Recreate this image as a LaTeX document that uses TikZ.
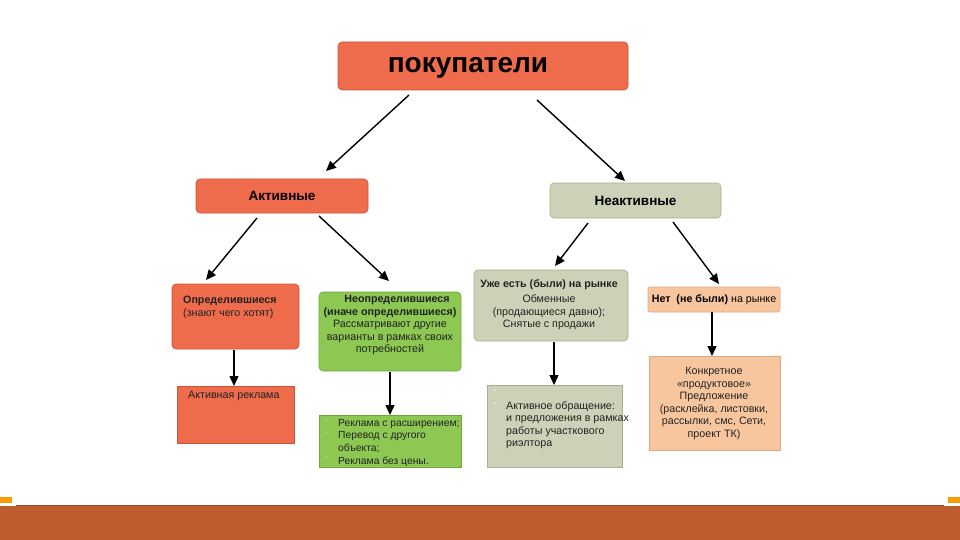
\documentclass[tikz,border=0pt]{standalone}
\usepackage{fontspec}
\setmainfont{Liberation Sans}
\usetikzlibrary{arrows.meta}
\definecolor{cRed}{HTML}{EE6B4C}
\definecolor{cRedD}{HTML}{C9553A}
\definecolor{cGrey}{HTML}{CBD2B7}
\definecolor{cGreyD}{HTML}{A8AE96}
\definecolor{cGreen}{HTML}{8DC853}
\definecolor{cGreenD}{HTML}{6FA63E}
\definecolor{cPeach}{HTML}{F8C69E}
\definecolor{cPeachD}{HTML}{E2A77C}
\definecolor{cBand}{HTML}{BF5B2D}
\definecolor{cTxt}{HTML}{222222}
\tikzset{
  box/.style={draw=#1D, line width=0.6pt, fill=#1, rounded corners=4pt, inner sep=0pt},
  flat/.style={draw=#1D, line width=0.4pt, fill=#1, inner sep=0pt},
  txt/.style={font=\fontsize{10.7}{12.6}\selectfont, text=cTxt, inner sep=0pt},
  conn/.style={line width=1.4pt, -{Triangle[length=10pt,width=9pt]}}
}
\begin{document}
\begin{tikzpicture}[x=1pt,y=-1pt]
\useasboundingbox (0,0) rectangle (960,540);
\fill[white] (0,0) rectangle (960,540);
% bottom band
\fill[cBand] (0,506) rectangle (960,540);
\draw[cBand!80!black, line width=0.8pt] (16,505.5) -- (944,505.5);
\fill[orange!80!yellow] (0,497) rectangle (12,503);
\fill[orange!80!yellow] (948,497) rectangle (960,503);

% boxes
\node[box=cRed, minimum width=290, minimum height=48] (top) at (483,66) {};
\node[font=\fontsize{28}{32}\selectfont\bfseries, inner sep=0pt] (toptxt) at (468,68) {покупатели};

\node[box=cRed, minimum width=172, minimum height=34] (act) at (282,196)
  {\fontsize{13.5}{15}\selectfont\bfseries Активные};
\node[box=cGrey, minimum width=171, minimum height=35] (inact) at (635.5,200.5)
  {\fontsize{13.5}{15}\selectfont\bfseries Неактивные};

\node[box=cRed, minimum width=127, minimum height=65] (def) at (235.5,316.5) {};
\node[txt, align=left, anchor=north west] (deftxt) at (183,296)
  {\textbf{Определившиеся}\\(знают чего хотят)};

\node[box=cGreen, minimum width=142, minimum height=79] (undef) at (390,331.5) {};
\node[txt, align=center, anchor=north] (undeftxt) at (390,295)
  {\hspace*{14pt}\textbf{Неопределившиеся}\\\textbf{(иначе определившиеся)}\\Рассматривают другие\\варианты в рамках своих\\потребностей};

\node[box=cGrey, minimum width=154, minimum height=71] (was) at (551,305.5) {};
\node[txt, align=center, anchor=north] (wastxt) at (549,279)
  {\textbf{Уже есть (были) на рынке}\\[3pt]Обменные\\(продающиеся давно);\\Снятые с продажи};

\node[box=cPeach, minimum width=132, minimum height=25, rounded corners=2pt] (not) at (714,299.5)
  {\fontsize{10.7}{12.6}\selectfont\textbf{Нет\ \ (не были)} на рынке};

\node[flat=cRed, minimum width=117, minimum height=57] (adv) at (235.5,414.5) {};
\node[txt, anchor=north west] (advtxt) at (188,391) {Активная реклама};

\node[flat=cGreen, minimum width=142, minimum height=52] (glist) at (390,441) {};
\node[txt, font=\fontsize{10.3}{12.6}\selectfont, align=left, anchor=north west] (glisttxt) at (338,419)
  {Реклама с расширением;\\Перевод с другого\\объекта;\\Реклама без цены.};
\node[txt, text=cGreen!60!white, align=left, anchor=north west] (gdash) at (325,419)
  {-\\-\\\\-};

\node[flat=cGrey, minimum width=135, minimum height=82] (glist2) at (554.5,426) {};
\node[txt, align=left, anchor=north west] (g2txt) at (506,401)
  {Активное обращение:\\и предложения в рамках\\работы участкового\\риэлтора};
\node[txt, text=white, align=left, anchor=north west] (g2dash) at (493,390)
  {-\\-};

\node[flat=cPeach, minimum width=131, minimum height=94] (offer) at (714.5,403) {};
\node[txt, align=center, anchor=north] (offertxt) at (714,367)
  {Конкретное\\«продуктовое»\\Предложение\\(расклейка, листовки,\\рассылки, смс, Сети,\\проект ТК)};

% connector endpoints
\coordinate (a1) at (409,95);  \coordinate (b1) at (326,171);
\coordinate (a2) at (537,100); \coordinate (b2) at (625,181);
\coordinate (a3) at (257,218); \coordinate (b3) at (206,280);
\coordinate (a4) at (319,216); \coordinate (b4) at (389,281);
\coordinate (a5) at (588,223); \coordinate (b5) at (555,266);
\coordinate (a6) at (673,222); \coordinate (b6) at (719,284);
\coordinate (a7) at (234,350); \coordinate (b7) at (234,386);
\coordinate (a8) at (390,372); \coordinate (b8) at (390,415);
\coordinate (a9) at (554,342); \coordinate (b9) at (554,385);
\coordinate (a10) at (712,312); \coordinate (b10) at (712,356);

\foreach \i in {1,...,10} \draw[conn] (a\i) -- (b\i);
\end{tikzpicture}
\end{document}
